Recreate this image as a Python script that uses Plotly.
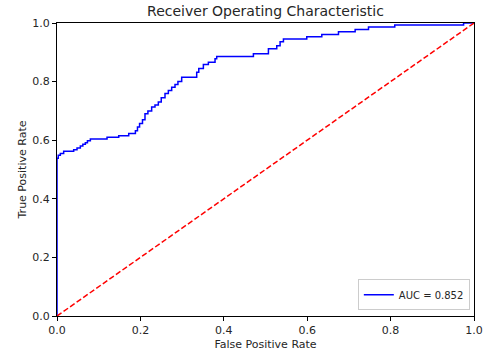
import plotly.graph_objects as go

fpr = [0.0, 0.0, 0.003, 0.008, 0.016, 0.040, 0.048, 0.056, 0.062, 0.068, 0.073, 0.080,
       0.120, 0.148, 0.172, 0.188, 0.193, 0.198, 0.205, 0.211, 0.218, 0.227, 0.235,
       0.243, 0.250, 0.259, 0.267, 0.275, 0.283, 0.290, 0.299, 0.335, 0.340, 0.351,
       0.363, 0.379, 0.383, 0.471, 0.507, 0.527, 0.535, 0.543, 0.599, 0.635, 0.675,
       0.715, 0.747, 0.810, 0.975, 1.0]
tpr = [0.0, 0.538, 0.549, 0.555, 0.562, 0.567, 0.573, 0.580, 0.586, 0.591, 0.598, 0.604,
       0.610, 0.615, 0.623, 0.632, 0.645, 0.657, 0.670, 0.690, 0.700, 0.713, 0.720,
       0.730, 0.745, 0.759, 0.770, 0.781, 0.790, 0.800, 0.815, 0.832, 0.845, 0.858,
       0.866, 0.878, 0.886, 0.895, 0.912, 0.922, 0.936, 0.945, 0.953, 0.961, 0.970,
       0.978, 0.986, 0.993, 1.0, 1.0]
auc_label = "AUC = 0.852"
diag = [0.0, 1.0]
ticks = [0.0, 0.2, 0.4, 0.6, 0.8, 1.0]
tick_text = ["0.0", "0.2", "0.4", "0.6", "0.8", "1.0"]

fig = go.Figure()
fig.add_trace(go.Scatter(x=fpr, y=tpr, mode="lines", line=dict(color="#0000ff", width=1.5, shape="hv"),
                         name=auc_label))
fig.add_trace(go.Scatter(x=diag, y=diag, mode="lines",
                         line=dict(color="#ff0000", width=1.5, dash="5.5px,2.5px"),
                         showlegend=False))

axis_common = dict(range=[0, 1], showgrid=False, zeroline=False, showline=True, linecolor="black",
                   linewidth=1, mirror=True, ticks="outside", ticklen=4, tickcolor="black",
                   tickvals=ticks, ticktext=tick_text, automargin=False,
                   tickfont=dict(size=11, color="#262626"))

fig.update_layout(
    width=487, height=354,
    margin=dict(l=57, r=13, t=23, b=38),
    paper_bgcolor="white", plot_bgcolor="white",
    font=dict(family="DejaVu Sans", color="#262626"),
    title=dict(text="Receiver Operating Characteristic", x=265.5 / 487,
               xanchor="center", y=1 - 11 / 354, yanchor="middle", font=dict(size=14, color="#262626")),
    xaxis=dict(axis_common, title=dict(text="False Positive Rate", font=dict(size=11), standoff=4)),
    yaxis=dict(axis_common, title=dict(text="True Positive Rate", font=dict(size=11), standoff=3)),
    legend=dict(x=0.99, y=0.02, xanchor="right", yanchor="bottom", bgcolor="white",
                bordercolor="#cccccc", borderwidth=1, font=dict(size=10),
                itemwidth=30, tracegroupgap=0),
)

fig.write_html("out.html")
